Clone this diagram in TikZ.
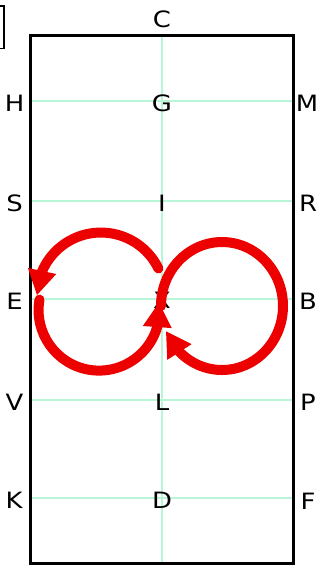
\documentclass[tikz,border=0pt]{standalone}
\usepackage{fontspec}
\setmainfont[FakeStretch=1.15]{DejaVu Sans}
\usetikzlibrary{arrows.meta,bending}
\definecolor{mint}{RGB}{185,245,215}
\definecolor{arcred}{RGB}{236,0,0}
\begin{document}
\begin{tikzpicture}[x=1pt,y=1pt,
  lbl/.style={inner sep=0pt,font=\fontsize{22.5}{22.5}\selectfont},
  gridline/.style={draw=mint,line width=1.5pt},
  loop/.style={draw=arcred,line width=10pt,line cap=round,-{Triangle[length=25pt,width=27pt,flex]}}]
\useasboundingbox (0,0) rectangle (320,-570);
\clip (0,0) rectangle (320,-570);
% grid lines
\coordinate (top) at (162,-35);
\coordinate (bot) at (162,-564);
\draw[gridline] (top) -- (bot);
\foreach \n/\y in {1/101,2/201,3/299,4/400,5/498}{
  \coordinate (l\n) at (30,-\y);
  \coordinate (r\n) at (293.5,-\y);
  \draw[gridline] (l\n) -- (r\n);
}
% frame
\draw[line width=3pt] (30,-35) rectangle (293.5,-563.5);
% partial box at top left
\draw[line width=1.6pt] (-6,-6) -- (4,-6) -- (4,-48.5) -- (-6,-48.5);
% labels
\node[lbl] (C) at (162,-19) {C};
\node[lbl] (H) at (14.5,-103) {H};
\node[lbl] (G) at (162,-103) {G};
\node[lbl] (M) at (307,-103) {M};
\node[lbl] (S) at (14.5,-203) {S};
\node[lbl] (I) at (162,-203) {I};
\node[lbl] (R) at (308,-203) {R};
\node[lbl] (E) at (14.5,-301) {E};
\node[lbl] (X) at (162,-300) {X};
\node[lbl] (B) at (308,-301) {B};
\node[lbl] (V) at (14.5,-402) {V};
\node[lbl] (L) at (162,-402) {L};
\node[lbl] (P) at (308,-402) {P};
\node[lbl] (K) at (14,-500) {K};
\node[lbl] (D) at (162,-500) {D};
\node[lbl] (F) at (308,-501) {F};
% red loops
\draw[loop] (158.4,-268.5) arc[start angle=26, end angle=179, radius=64];
\draw[loop] (39.5,-299.6) arc[start angle=170, end angle=367.6, radius=60.5];
\draw[loop] (161,-306) arc[start angle=180, end angle=-157, x radius=61, y radius=64];
\end{tikzpicture}
\end{document}
